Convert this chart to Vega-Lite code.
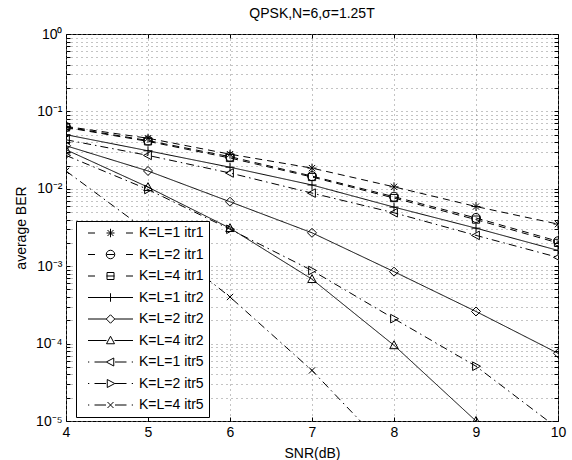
{
  "$schema": "https://vega.github.io/schema/vega-lite/v6.json",
  "width": 492,
  "height": 387,
  "autosize": {"type": "none"},
  "padding": {"left": 66, "top": 34, "right": 14, "bottom": 39},
  "background": "white",
  "title": {"text": "QPSK,N=6,σ=1.25T", "fontSize": 14, "fontWeight": "normal", "font": "Liberation Sans", "color": "black", "offset": 6, "anchor": "middle"},
  "config": {
    "view": {"stroke": "black", "strokeWidth": 1},
    "font": "Liberation Sans",
    "axis": {"labelFont": "Liberation Sans", "titleFont": "Liberation Sans", "labelFontSize": 14, "titleFontSize": 14, "titleFontWeight": "normal", "labelColor": "black", "titleColor": "black", "tickColor": "black", "domain": false, "labelOverlap": false, "labelFlush": false}
  },
  "data": {
    "values": [
      {"snr": 4, "ber": 0.064, "series": "K=L=1 itr1"},
      {"snr": 5, "ber": 0.045, "series": "K=L=1 itr1"},
      {"snr": 6, "ber": 0.028, "series": "K=L=1 itr1"},
      {"snr": 7, "ber": 0.0185, "series": "K=L=1 itr1"},
      {"snr": 8, "ber": 0.0106, "series": "K=L=1 itr1"},
      {"snr": 9, "ber": 0.0059, "series": "K=L=1 itr1"},
      {"snr": 10, "ber": 0.0035, "series": "K=L=1 itr1"},
      {"snr": 4, "ber": 0.063, "series": "K=L=2 itr1"},
      {"snr": 5, "ber": 0.042, "series": "K=L=2 itr1"},
      {"snr": 6, "ber": 0.026, "series": "K=L=2 itr1"},
      {"snr": 7, "ber": 0.0146, "series": "K=L=2 itr1"},
      {"snr": 8, "ber": 0.0079, "series": "K=L=2 itr1"},
      {"snr": 9, "ber": 0.0042, "series": "K=L=2 itr1"},
      {"snr": 10, "ber": 0.0021, "series": "K=L=2 itr1"},
      {"snr": 4, "ber": 0.062, "series": "K=L=4 itr1"},
      {"snr": 5, "ber": 0.041, "series": "K=L=4 itr1"},
      {"snr": 6, "ber": 0.025, "series": "K=L=4 itr1"},
      {"snr": 7, "ber": 0.0142, "series": "K=L=4 itr1"},
      {"snr": 8, "ber": 0.0076, "series": "K=L=4 itr1"},
      {"snr": 9, "ber": 0.004, "series": "K=L=4 itr1"},
      {"snr": 10, "ber": 0.002, "series": "K=L=4 itr1"},
      {"snr": 4, "ber": 0.05, "series": "K=L=1 itr2"},
      {"snr": 5, "ber": 0.031, "series": "K=L=1 itr2"},
      {"snr": 6, "ber": 0.019, "series": "K=L=1 itr2"},
      {"snr": 7, "ber": 0.0112, "series": "K=L=1 itr2"},
      {"snr": 8, "ber": 0.0058, "series": "K=L=1 itr2"},
      {"snr": 9, "ber": 0.0031, "series": "K=L=1 itr2"},
      {"snr": 10, "ber": 0.0016, "series": "K=L=1 itr2"},
      {"snr": 4, "ber": 0.036, "series": "K=L=2 itr2"},
      {"snr": 5, "ber": 0.017, "series": "K=L=2 itr2"},
      {"snr": 6, "ber": 0.0068, "series": "K=L=2 itr2"},
      {"snr": 7, "ber": 0.0027, "series": "K=L=2 itr2"},
      {"snr": 8, "ber": 0.00085, "series": "K=L=2 itr2"},
      {"snr": 9, "ber": 0.00026, "series": "K=L=2 itr2"},
      {"snr": 10, "ber": 0.000075, "series": "K=L=2 itr2"},
      {"snr": 4, "ber": 0.032, "series": "K=L=4 itr2"},
      {"snr": 5, "ber": 0.0105, "series": "K=L=4 itr2"},
      {"snr": 6, "ber": 0.0031, "series": "K=L=4 itr2"},
      {"snr": 7, "ber": 0.00068, "series": "K=L=4 itr2"},
      {"snr": 8, "ber": 0.000095, "series": "K=L=4 itr2"},
      {"snr": 9, "ber": 0.00001, "series": "K=L=4 itr2"},
      {"snr": 4, "ber": 0.043, "series": "K=L=1 itr5"},
      {"snr": 5, "ber": 0.027, "series": "K=L=1 itr5"},
      {"snr": 6, "ber": 0.016, "series": "K=L=1 itr5"},
      {"snr": 7, "ber": 0.0088, "series": "K=L=1 itr5"},
      {"snr": 8, "ber": 0.0049, "series": "K=L=1 itr5"},
      {"snr": 9, "ber": 0.0025, "series": "K=L=1 itr5"},
      {"snr": 10, "ber": 0.0013, "series": "K=L=1 itr5"},
      {"snr": 4, "ber": 0.027, "series": "K=L=2 itr5"},
      {"snr": 5, "ber": 0.0098, "series": "K=L=2 itr5"},
      {"snr": 6, "ber": 0.003, "series": "K=L=2 itr5"},
      {"snr": 7, "ber": 0.00088, "series": "K=L=2 itr5"},
      {"snr": 8, "ber": 0.00021, "series": "K=L=2 itr5"},
      {"snr": 9, "ber": 0.000051, "series": "K=L=2 itr5"},
      {"snr": 10, "ber": 0.000008, "series": "K=L=2 itr5"},
      {"snr": 4, "ber": 0.017, "series": "K=L=4 itr5"},
      {"snr": 5, "ber": 0.0028, "series": "K=L=4 itr5"},
      {"snr": 6, "ber": 0.0004, "series": "K=L=4 itr5"},
      {"snr": 7, "ber": 0.000045, "series": "K=L=4 itr5"},
      {"snr": 8, "ber": 0.0000035, "series": "K=L=4 itr5"}
    ]
  },
  "layer": [
    {
      "mark": {"type": "line", "color": "black", "strokeWidth": 1, "clip": true},
      "encoding": {
        "x": {"field": "snr", "type": "quantitative", "scale": {"domain": [4, 10], "nice": false, "zero": false},
          "axis": {"orient": "bottom", "values": [4, 5, 6, 7, 8, 9, 10], "title": "SNR(dB)", "grid": true, "gridDash": [1, 4], "gridColor": "#888", "gridWidth": 1, "tickSize": -4, "labelPadding": 8, "titleY": 25, "titleBaseline": "top"}},
        "y": {"field": "ber", "type": "quantitative", "scale": {"type": "log", "domain": [0.00001, 1], "nice": false},
          "axis": {"orient": "left", "title": "average BER", "grid": true, "gridDash": [1, 4], "gridColor": "#888", "gridWidth": 1, "tickSize": -4, "labelPadding": 8,
            "values": [0.00001,0.00002,0.00003,0.00004,0.00005,0.00006,0.00007,0.00008,0.00009,0.0001,0.0002,0.0003,0.0004,0.0005,0.0006,0.0007,0.0008,0.0009,0.001,0.002,0.003,0.004,0.005,0.006,0.007,0.008,0.009,0.01,0.02,0.03,0.04,0.05,0.06,0.07,0.08,0.09,0.1,0.2,0.3,0.4,0.5,0.6,0.7,0.8,0.9,1],
            "labelExpr": "abs(log(datum.value)/LN10 - round(log(datum.value)/LN10)) < 0.001 ? ['10⁰','10⁻¹','10⁻²','10⁻³','10⁻⁴','10⁻⁵'][-round(log(datum.value)/LN10)] : ''",
            "titleX": -45, "titleY": 193.5, "titleAngle": -90, "titleAlign": "center", "titleBaseline": "middle"}},
        "strokeDash": {"field": "series", "type": "nominal",
          "scale": {"domain": ["K=L=1 itr1", "K=L=2 itr1", "K=L=4 itr1", "K=L=1 itr2", "K=L=2 itr2", "K=L=4 itr2", "K=L=1 itr5", "K=L=2 itr5", "K=L=4 itr5"],
            "range": [[7, 5], [7, 5], [7, 5], [1, 0], [1, 0], [1, 0], [8, 4, 1.5, 4], [8, 4, 1.5, 4], [8, 4, 1.5, 4]]},
          "legend": null},
        "order": {"field": "snr", "type": "quantitative"}
      }
    },
    {
      "mark": {"type": "point", "filled": false, "color": "black", "strokeWidth": 1, "size": 81, "clip": true, "opacity": 1},
      "encoding": {
        "x": {"field": "snr", "type": "quantitative", "axis": {"orient": "top", "values": [4, 5, 6, 7, 8, 9, 10], "labels": false, "title": null, "grid": false, "tickSize": -4}},
        "y": {"field": "ber", "type": "quantitative", "axis": {"orient": "right", "labels": false, "title": null, "grid": false, "tickSize": -4,
          "values": [0.00001,0.00002,0.00003,0.00004,0.00005,0.00006,0.00007,0.00008,0.00009,0.0001,0.0002,0.0003,0.0004,0.0005,0.0006,0.0007,0.0008,0.0009,0.001,0.002,0.003,0.004,0.005,0.006,0.007,0.008,0.009,0.01,0.02,0.03,0.04,0.05,0.06,0.07,0.08,0.09,0.1,0.2,0.3,0.4,0.5,0.6,0.7,0.8,0.9,1]}},
        "shape": {"field": "series", "type": "nominal",
          "scale": {"domain": ["K=L=1 itr1", "K=L=2 itr1", "K=L=4 itr1", "K=L=1 itr2", "K=L=2 itr2", "K=L=4 itr2", "K=L=1 itr5", "K=L=2 itr5", "K=L=4 itr5"],
            "range": [
              "M-1,0H1M0,-1V1M-0.7,-0.7L0.7,0.7M-0.7,0.7L0.7,-0.7",
              "M1,0A1,1,0,1,1,-1,0A1,1,0,1,1,1,0Z",
              "M-0.8,-0.8H0.8V0.8H-0.8Z",
              "M-1,0H1M0,-1V1",
              "M0,-1L1,0L0,1L-1,0Z",
              "M0,-1L0.95,0.75L-0.95,0.75Z",
              "M-1,0L0.75,-0.95L0.75,0.95Z",
              "M1,0L-0.75,-0.95L-0.75,0.95Z",
              "M-0.7,-0.7L0.7,0.7M-0.7,0.7L0.7,-0.7"
            ]},
          "legend": null}
      }
    },
    {
      "mark": {"type": "point", "filled": false, "color": "black", "strokeWidth": 1, "size": 100, "opacity": 0},
      "encoding": {
        "x": {"field": "snr", "type": "quantitative", "axis": null},
        "y": {"field": "ber", "type": "quantitative", "axis": null},
        "shape": {"field": "series", "type": "nominal",
          "scale": {"domain": ["K=L=1 itr1", "K=L=2 itr1", "K=L=4 itr1", "K=L=1 itr2", "K=L=2 itr2", "K=L=4 itr2", "K=L=1 itr5", "K=L=2 itr5", "K=L=4 itr5"],
            "range": [
              "M0,0H1.4M3.7,0H5.3M7.6,0H9M4.5,-0.85V0.85M3.9,-0.6L5.1,0.6M3.9,0.6L5.1,-0.6",
              "M0,0H1.4M3.7,0H5.3M7.6,0H9M5.35,0A0.85,0.85,0,1,1,3.65,0A0.85,0.85,0,1,1,5.35,0Z",
              "M0,0H1.4M3.7,0H5.3M7.6,0H9M3.8,-0.7H5.2V0.7H3.8Z",
              "M0,0H9M4.5,-0.85V0.85",
              "M0,0H3.65M5.35,0H9M4.5,-0.85L5.35,0L4.5,0.85L3.65,0Z",
              "M0,0H3.7M5.3,0H9M4.5,-0.85L5.3,0.65L3.7,0.65Z",
              "M0,0H0.25M1.3,0H3.6M5.4,0H7.7M8.75,0H9M3.65,0L5.15,-0.8L5.15,0.8Z",
              "M0,0H0.25M1.3,0H3.6M5.4,0H7.7M8.75,0H9M5.35,0L3.85,-0.8L3.85,0.8Z",
              "M0,0H0.25M1.3,0H3.6M5.4,0H7.7M8.75,0H9M3.9,-0.6L5.1,0.6M3.9,0.6L5.1,-0.6"
            ]},
          "legend": {"title": null, "orient": "none", "legendX": 10, "legendY": 187, "strokeColor": "black", "fillColor": "white", "padding": 5,
            "labelFontSize": 14, "labelFont": "Liberation Sans", "labelColor": "black", "symbolSize": 100, "symbolStrokeWidth": 1,
            "symbolStrokeColor": "black", "symbolFillColor": "transparent", "symbolOpacity": 1, "labelOffset": 44, "rowPadding": 7.5, "labelLimit": 200,
            "encode": {"symbols": {"update": {"opacity": {"value": 1}, "stroke": {"value": "black"}, "fill": {"value": "transparent"}}}}}
        }
      }
    }
  ],
  "resolve": {"scale": {"shape": "independent"}, "axis": {"x": "independent", "y": "independent"}}
}
